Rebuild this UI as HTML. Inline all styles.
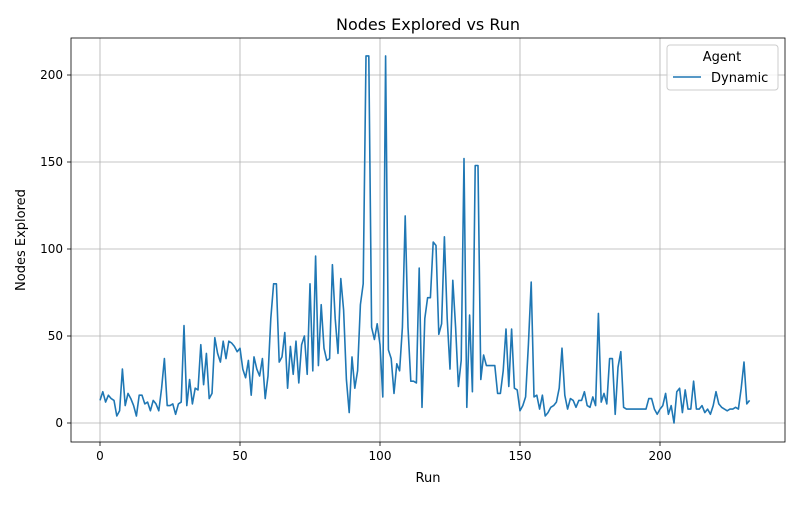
<!DOCTYPE html>
<html><head><meta charset="utf-8"><style>
body{margin:0;background:#fff;font-family:"Liberation Sans","DejaVu Sans",sans-serif;}
</style></head><body>
<svg id="chart" width="800" height="500" xmlns="http://www.w3.org/2000/svg" font-family="DejaVu Sans, Liberation Sans, sans-serif">
<rect width="800" height="500" fill="#fff"/>
<text x="428" y="30" font-size="16" text-anchor="middle">Nodes Explored vs Run</text>
<g id="grid"></g>
<g id="ticks"></g>
<rect x="71" y="38" width="714" height="404" fill="none" stroke="#000" stroke-width="0.8"/>
<path id="line" fill="none" stroke="#1f77b4" stroke-width="1.6" stroke-linejoin="round"/>
<text x="428" y="482" font-size="13" text-anchor="middle">Run</text>
<text x="0" y="0" font-size="13" text-anchor="middle" transform="translate(25,240) rotate(-90)">Nodes Explored</text>
<g>
<rect x="667" y="45" width="111" height="45" rx="3" fill="#fff" fill-opacity="0.8" stroke="#ccc"/>
<text x="722" y="61" font-size="13" text-anchor="middle">Agent</text>
<line x1="673" y1="77" x2="701" y2="77" stroke="#1f77b4" stroke-width="1.6"/>
<text x="711" y="82" font-size="13">Dynamic</text>
</g>
</svg>
<script>
const values=[13,18,12,16,14,13,4,7,31,10,17,14,10,4,16,16,11,12,7,13,11,7,20,37,10,10,11,5,11,12,56,10,25,11,20,19,45,22,40,14,17,49,40,35,47,37,47,46,44,41,43,31,26,36,16,38,31,27,37,14,27,60,80,80,35,38,52,20,44,28,47,23,45,50,28,80,30,96,33,68,43,36,37,91,60,40,83,65,25,6,38,20,30,68,80,211,211,55,48,57,45,15,211,42,37,17,34,30,55,119,55,24,24,23,89,9,60,72,72,104,102,51,57,107,60,31,82,55,21,36,152,9,62,18,148,148,25,39,33,33,33,33,17,17,30,54,21,54,20,19,7,10,15,45,81,15,16,8,16,4,6,9,10,12,20,43,16,8,14,13,9,13,13,18,10,9,15,10,63,12,17,11,37,37,5,32,41,9,8,8,8,8,8,8,8,8,14,14,8,5,8,10,17,5,10,0,18,20,6,19,8,8,24,8,8,10,6,8,5,10,18,11,9,8,7,8,8,9,8,20,35,11,13];
const xTicks=[0,50,100,150,200];
const yTicks=[0,50,100,150,200];
const X=v=>100+v*2.8, Y=v=>423-v*1.74;
const ns="http://www.w3.org/2000/svg";
const grid=document.getElementById('grid'), ticks=document.getElementById('ticks');
function mk(tag,attrs,parent){const e=document.createElementNS(ns,tag);for(const k in attrs)e.setAttribute(k,attrs[k]);parent.appendChild(e);return e;}
xTicks.forEach(t=>{
 const g=mk('line',{x1:X(t),x2:X(t),y1:38,y2:442,stroke:'#b0b0b0','stroke-width':0.8},grid);
 
 
 mk('line',{x1:X(t),x2:X(t),y1:442,y2:446,stroke:'#000','stroke-width':0.8},ticks);
 const tx=mk('text',{x:X(t),y:460,'font-size':12,'text-anchor':'middle'},ticks);
 tx.textContent=t;
 
 
});
yTicks.forEach(t=>{
 const g=mk('line',{x1:71,x2:785,y1:Y(t),y2:Y(t),stroke:'#b0b0b0','stroke-width':0.8},grid);
 
 
 mk('line',{x1:67,x2:71,y1:Y(t),y2:Y(t),stroke:'#000','stroke-width':0.8},ticks);
 const tx=mk('text',{x:63,y:Y(t)+4,'font-size':12,'text-anchor':'end'},ticks);
 tx.textContent=t;
 
 
});
document.getElementById('line').setAttribute('d',values.map((v,i)=>(i?'L':'M')+X(i).toFixed(1)+','+Y(v).toFixed(1)).join(''));
</script>
</body></html>
